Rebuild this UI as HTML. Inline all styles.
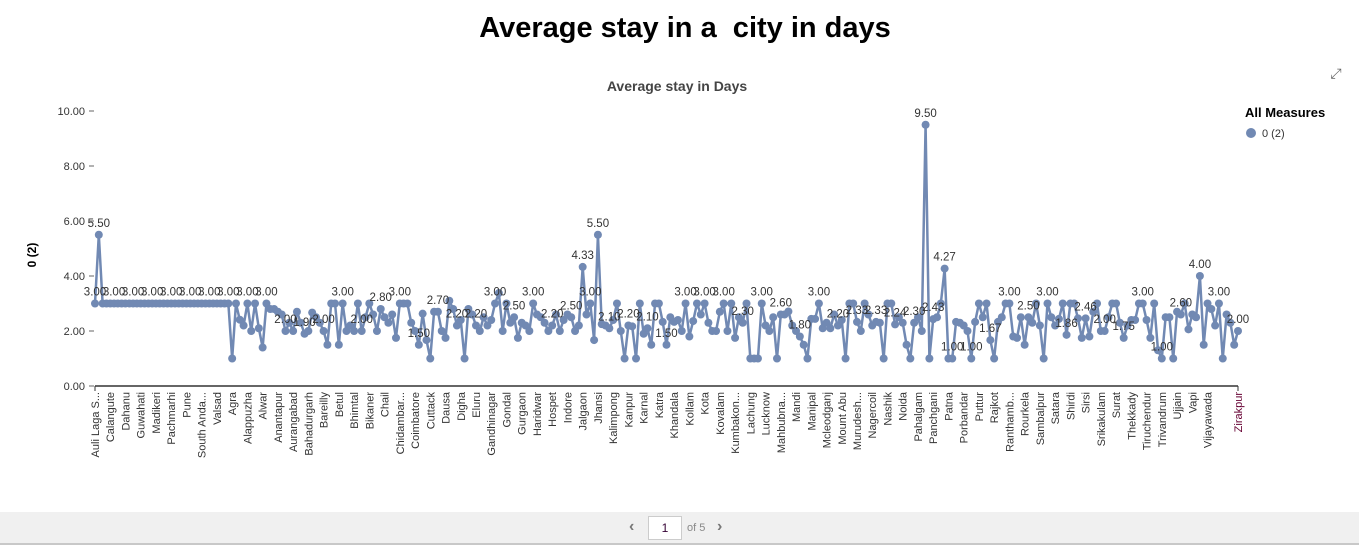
<!DOCTYPE html>
<html><head><meta charset="utf-8"><style>
body{margin:0;width:1359px;height:545px;background:#fff;font-family:"Liberation Sans",Arial,sans-serif;position:relative;overflow:hidden}
#title{position:absolute;left:0;width:1370px;top:12px;text-align:center;font-size:29px;font-weight:bold;color:#000}
#pager{position:absolute;left:0;top:512px;width:1359px;height:31px;background:#f0f0f0;border-bottom:2px solid #c8c8c8}
</style></head><body>
<div id="title">Average stay in a&nbsp; city in days</div>
<svg id="chart" width="1359" height="512" style="position:absolute;left:0;top:0" font-family="Liberation Sans, Arial, sans-serif"></svg>
<div id="pager">
 <span style="position:absolute;left:629px;top:6px;font-size:16px;color:#777;font-weight:bold">&#8249;</span>
 <div style="position:absolute;left:648px;top:4px;width:32px;height:22px;background:#fff;border:1px solid #ccc;text-align:center;font-size:12px;line-height:22px;color:#303">1</div>
 <span style="position:absolute;left:687px;top:10px;font-size:11px;color:#888">of 5</span>
 <span style="position:absolute;left:717px;top:6px;font-size:16px;color:#777;font-weight:bold">&#8250;</span>
</div>
<script>
const categoryLabels=["Auli Laga S...","Calangute","Dahanu","Guwahati","Madikeri","Pachmarhi","Pune","South Anda...","Valsad","Agra","Alappuzha","Alwar","Anantapur","Aurangabad","Bahadurgarh","Bareilly","Betul","Bhimtal","Bikaner","Chail","Chidambar...","Coimbatore","Cuttack","Dausa","Digha","Eluru","Gandhinagar","Gondal","Gurgaon","Haridwar","Hospet","Indore","Jalgaon","Jhansi","Kalimpong","Kanpur","Karnal","Katra","Khandala","Kollam","Kota","Kovalam","Kumbakon...","Lachung","Lucknow","Mahbubna...","Mandi","Manipal","Mcleodganj","Mount Abu","Murudesh...","Nagercoil","Nashik","Noida","Pahalgam","Panchgani","Patna","Porbandar","Puttur","Rajkot","Ranthamb...","Rourkela","Sambalpur","Satara","Shirdi","Sirsi","Srikakulam","Surat","Thekkady","Tiruchendur","Trivandrum","Ujjain","Vapi","Vijayawada","Zirakpur"];
const values=[3,5.5,3,3,3,3,3,3,3,3,3,3,3,3,3,3,3,3,3,3,3,3,3,3,3,3,3,3,3,3,3,3,3,3,3,3,
1,3,2.41,2.2,3,2,3,2.1,1.4,3,2.8,2.8,2.7,2.6,2,2.3,2,2.7,2.3,1.9,
2,2.67,2.5,2.3,2,1.5,3,3,1.5,3,2,2.2,2,3,2,2.5,3,2.6,2,2.8,
2.5,2.3,2.6,1.75,3,3,3,2.3,2,1.5,2.63,1.67,1,2.7,2.7,2,1.75,3.1,2.8,2.2,2.4,1,2.8,2.6,2.2,2,2.5,
2.2,2.4,3,3.38,2,3,2.3,2.5,1.75,2.3,2.2,2,3,2.6,2.5,2.3,2,2.2,2.6,
2,2.4,2.6,2.5,2,2.2,4.33,2.6,3,1.67,5.5,2.25,2.2,2.1,2.4,3,2,1,2.2,2.17,1,3,1.9,2.1,
1.5,3,3,2.33,1.5,2.5,2.33,2.4,2,3,1.8,2.36,3,2.6,3,2.3,2,2,2.7,3,2,3,
1.75,2.5,2.3,3,1,1,1,3,2.2,2.0,2.5,1,2.6,2.6,2.71,2.2,2,1.8,1.5,1,2.44,2.44,3,
2.1,2.3,2.1,2.6,2.2,2.4,1,3,3,2.33,2,3,2.6,2.2,2.33,2.3,1,3,3,2.24,2.5,2.3,1.5,1,
2.3,2.5,2,9.5,1,2.43,2.5,3,4.27,1,1,2.33,2.3,2.2,2,1,2.33,3,2.5,3,1.67,1,2.33,2.5,3,3,
1.8,1.75,2.5,1.5,2.5,2.3,3,2.2,1,3,2.5,2.2,2.44,3,1.86,3,3,2.46,1.75,2.46,1.8,2.7,3,2,2,2.5,3,3,2.3,1.75,
2.2,2.4,2.4,3,3,2.4,1.75,3,1.3,1.0,2.5,2.5,1,2.7,2.6,3,2.06,2.6,2.5,4.0,1.5,3,2.8,2.2,3,1,2.6,2.3,1.5,2];
const yTicks=[0,2,4,6,8,10];
const labelEvery=5;
</script>
<script>
const svg=document.getElementById('chart');
const NS='http://www.w3.org/2000/svg';
const x0=95,x1=1238,yBase=386,yTop=111,yMax=10;
const N=values.length;
const xs=i=>x0+i*(x1-x0)/(N-1);
const ys=v=>yBase-(v/yMax)*(yBase-yTop);
function mk(t,a,p){const e=document.createElementNS(NS,t);for(const k in a)e.setAttribute(k,a[k]);(p||svg).appendChild(e);return e;}
let t=mk('text',{x:677,y:91,'text-anchor':'middle','font-size':14,'font-weight':'bold',fill:'#444'});t.textContent='Average stay in Days';


t=mk('text',{x:36,y:255,'text-anchor':'middle','font-size':12,'font-weight':'bold',fill:'#000',transform:'rotate(-90 36 255)'});t.textContent='0 (2)';


yTicks.forEach(v=>{const y=ys(v);
 mk('line',{x1:89,x2:94,y1:y,y2:y,stroke:'#666'});
 const tx=mk('text',{x:85,y:y+4,'text-anchor':'end','font-size':11,fill:'#333'});tx.textContent=v.toFixed(2);
 
 
});
const ax=mk('line',{x1:x0,x2:x1,y1:yBase,y2:yBase,stroke:'#333','stroke-width':1.5});


mk('line',{x1:x0,x2:x0,y1:yBase,y2:yBase+5,stroke:'#333'});
mk('line',{x1:x1,x2:x1,y1:yBase,y2:yBase+5,stroke:'#333'});
const L=categoryLabels.length;
categoryLabels.forEach((c,k)=>{const i=k===L-1?N-1:Math.round(k*(N-1)*4/300);const x=xs(i)+4;
 const tx=mk('text',{x:x,y:392,'text-anchor':'end','font-size':11,fill:k===L-1?'#603':'#333',transform:`rotate(-90 ${x} 392)`});tx.textContent=c;
 
 
});
const pts=values.map((v,i)=>xs(i)+','+ys(v)).join(' ');
const line=mk('polyline',{points:pts,fill:'none',stroke:'#7189b3','stroke-width':2.5,'stroke-linejoin':'round'});


values.forEach((v,i)=>{const c=mk('circle',{cx:xs(i),cy:ys(v),r:4,fill:'#7189b3'});
 
 
});
values.forEach((v,i)=>{if(i%labelEvery!==0&&v<4)return;
 const tx=mk('text',{x:xs(i),y:ys(v)-8,'text-anchor':'middle','font-size':11.5,fill:'#333'});tx.textContent=v.toFixed(2);
 
 
});
t=mk('text',{x:1245,y:117,'font-size':13,'font-weight':'bold',fill:'#000'});t.textContent='All Measures';


const lc=mk('circle',{cx:1251,cy:133,r:5,fill:'#7189b3'});


t=mk('text',{x:1262,y:137,'font-size':11,fill:'#333'});t.textContent='0 (2)';


const ic=mk('text',{x:1336,y:78,'text-anchor':'middle','font-size':14,fill:'#666'});ic.textContent='⤢';


</script>
</body></html>
